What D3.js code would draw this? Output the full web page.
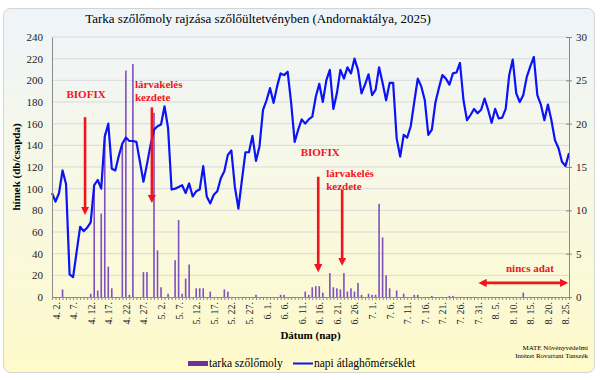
<!DOCTYPE html>
<meta charset="utf-8">
<style>
    body {
        margin: 0;
        background: #fff;
    }

    text {
        font-family: "Liberation Serif", "Times New Roman", serif;
    }
</style>

<body>
<div id="chart"></div>

<script src="https://cdn.jsdelivr.net/npm/d3@7"></script>
<script>
    // daily data, 2025. 4. 1. -> 2025. 8. 26.
    var startDate = new Date(2025, 3, 1);

    // tarka szőlőmoly, hímek (db/csapda)
    var moths = [
        0, 0, 0, 7, 0, 0, 0, 0, 0, 0,
        0, 3, 103, 6, 77, 151, 28, 8, 0, 0,
        140, 209, 2, 215, 0, 0, 23, 23, 0, 170,
        43, 9, 0, 3, 0, 34, 71, 3, 17, 30,
        0, 8, 8, 8, 0, 5, 0, 0, 0, 7,
        5, 0, 0, 0, 0, 0, 0, 0, 2, 0,
        0, 0, 0, 0, 0, 2, 2, 0, 0, 0,
        0, 0, 5, 2, 9, 10, 10, 4, 0, 22,
        9, 8, 7, 22, 5, 8, 5, 13, 2, 0,
        3, 2, 2, 86, 55, 20, 8, 0, 6, 0,
        3, 0, 0, 2, 2, 0, 0, 0, 1, 0,
        0, 0, 0, 1, 1, 0, 0, 0, 0, 0,
        0, 0, 0, 0, 0, 0, 0, 0, 0, 0,
        0, 0, 0, 0, 4, 0, 0, 0, 0, 0,
        0, 0, 0, 0, 0, 0, 0, 0
    ];

    // napi átlaghőmérséklet (°C)
    var temps = [
        12.0, 11.0, 12.0, 14.6, 13.0, 2.6, 2.3, 5.2, 8.1, 7.6,
        8.0, 8.6, 12.9, 13.5, 12.5, 18.5, 20.0, 14.8, 14.6, 16.3,
        17.7, 18.4, 18.0, 18.0, 17.9, 15.6, 13.3, 15.3, 17.5, 19.3,
        19.7, 19.9, 22.0, 19.5, 12.4, 12.5, 12.7, 12.9, 12.0, 13.1,
        11.6, 12.2, 12.4, 15.1, 11.6, 10.8, 11.8, 12.2, 13.7, 14.5,
        16.4, 16.9, 12.7, 10.2, 13.5, 16.7, 16.7, 18.6, 15.7, 17.4,
        21.6, 22.7, 24.1, 22.4, 24.3, 25.8, 25.6, 26.0, 22.4, 17.9,
        19.3, 20.5, 20.0, 20.5, 20.8, 23.1, 24.6, 22.5, 25.0, 26.2,
        21.7, 23.5, 26.2, 25.2, 26.5, 25.8, 27.5, 26.2, 23.5, 24.5,
        25.7, 23.3, 23.9, 26.5, 24.7, 22.7, 24.7, 24.7, 18.3, 16.2,
        18.7, 18.4, 19.7, 22.5, 25.2, 24.3, 22.7, 18.7, 19.3, 22.4,
        24.1, 25.6, 25.2, 24.5, 25.8, 25.9, 27.0, 22.7, 20.4, 21.0,
        21.7, 21.2, 21.6, 22.9, 21.6, 20.1, 21.7, 20.6, 20.7, 21.7,
        25.6, 27.4, 23.5, 22.5, 23.3, 25.4, 26.6, 27.7, 23.3, 22.2,
        20.4, 22.2, 20.4, 18.1, 17.2, 15.6, 15.1, 16.6
    ];

    var leftTicks = [0, 20, 40, 60, 80, 100, 120, 140, 160, 180, 200, 220, 240];
    var rightTicks = [0, 5, 10, 15, 20, 25, 30];
    var dateLabels = [
        "4. 2.", "4. 7.", "4. 12.", "4. 17.", "4. 22.", "4. 27.",
        "5. 2.", "5. 7.", "5. 12.", "5. 17.", "5. 22.", "5. 27.",
        "6. 1.", "6. 6.", "6. 11.", "6. 16.", "6. 21.", "6. 26.",
        "7. 1.", "7. 6.", "7. 11.", "7. 16.", "7. 21.", "7. 26.", "7. 31.",
        "8. 5.", "8. 10.", "8. 15.", "8. 20.", "8. 25."
    ];

    // annotation arrows: day index (from 4. 1.) and top / tip in hímek units
    var arrowDays = [9.4, 28.4, 75.7, 82.5];
    var arrowTop = [166, 175, 111, 99];
    var arrowTip = [75, 86, 22, 28];
    var noDataFrom = "7. 31.";

    var width = 600,
        height = 380;

    function dayOf(label) {
        var p = label.split(".");
        var d = new Date(2025, +p[0] - 1, +p[1]);
        return d3.timeDay.count(startDate, d);
    }

    var svg = d3.select("#chart").append("svg")
        .attr("width", width)
        .attr("height", height);

    var defs = svg.append("defs");
    var grad = defs.append("linearGradient")
        .attr("id", "bg")
        .attr("x1", 0).attr("y1", 0).attr("x2", 0).attr("y2", 1);
    grad.append("stop").attr("offset", "0%").attr("stop-color", "#eff4fa");
    grad.append("stop").attr("offset", "45%").attr("stop-color", "#f7f8e6");
    grad.append("stop").attr("offset", "100%").attr("stop-color", "#fefaca");

    defs.append("marker")
        .attr("id", "head")
        .attr("viewBox", "0 0 10 10")
        .attr("refX", 5).attr("refY", 5)
        .attr("markerWidth", 3.2).attr("markerHeight", 3.2)
        .attr("orient", "auto-start-reverse")
        .append("path")
        .attr("d", "M0,0 L10,5 L0,10 z")
        .attr("fill", "#f0141e");

    svg.append("rect")
        .attr("x", 3.5).attr("y", 8.5)
        .attr("width", 591).attr("height", 364)
        .attr("rx", 7)
        .attr("fill", "url(#bg)")
        .attr("stroke", "#d4d4d4");

    var x = d3.scaleLinear()
        .domain([0, temps.length - 1])
        .range([52, 569]);

    var yL = d3.scaleLinear().domain([0, 240]).range([297, 37]);
    var yR = d3.scaleLinear().domain([0, 30]).range([297, 37]);

    // grid
    svg.append("g")
        .selectAll("line")
        .data(leftTicks.slice(1))
        .enter().append("line")
        .attr("x1", x(0)).attr("x2", x(temps.length - 1))
        .attr("y1", function (d) { return yL(d); })
        .attr("y2", function (d) { return yL(d); })
        .attr("stroke", "#d9d9d9")
        .attr("stroke-width", 1);

    // bars
    svg.append("g")
        .selectAll("rect")
        .data(moths)
        .enter().append("rect")
        .attr("x", function (d, i) { return x(i) - 0.8; })
        .attr("width", 1.6)
        .attr("y", function (d) { return yL(d); })
        .attr("height", function (d) { return yL(0) - yL(d); })
        .attr("fill", "#7d4fc0");

    // temperature line
    var line = d3.line()
        .x(function (d, i) { return x(i); })
        .y(function (d) { return yR(d); });

    svg.append("path")
        .datum(temps)
        .attr("d", line)
        .attr("fill", "none")
        .attr("stroke", "#0a14f5")
        .attr("stroke-width", 2.2)
        .attr("stroke-linejoin", "round");

    // axes
    var axisColor = "#8a8a8a";

    var left = svg.append("g")
        .attr("transform", "translate(" + x(0) + ",0)")
        .call(d3.axisLeft(yL).tickValues(leftTicks).tickSize(0).tickPadding(9));
    left.select(".domain").attr("stroke", axisColor);
    left.selectAll("text").style("font-size", "11px").attr("fill", "#222");

    var right = svg.append("g")
        .attr("transform", "translate(" + x(temps.length - 1) + ",0)")
        .call(d3.axisRight(yR).tickValues(rightTicks).tickSize(3).tickPadding(4));
    right.select(".domain").attr("stroke", axisColor);
    right.selectAll("line").attr("stroke", axisColor).attr("x1", -3);
    right.selectAll("text").style("font-size", "11px").attr("fill", "#222");

    var labelDays = dateLabels.map(dayOf);
    var bottom = svg.append("g")
        .attr("transform", "translate(0," + yL(0) + ")")
        .call(d3.axisBottom(x)
            .tickValues(d3.range(temps.length))
            .tickSize(3)
            .tickFormat(function (d) {
                var k = labelDays.indexOf(d);
                return k < 0 ? "" : dateLabels[k];
            }));
    bottom.select(".domain").attr("stroke", axisColor);
    bottom.selectAll("line").attr("stroke", axisColor);
    bottom.selectAll("text")
        .style("font-size", "10px")
        .style("text-anchor", "end")
        .attr("fill", "#222")
        .attr("transform", "rotate(-90)")
        .attr("x", -5)
        .attr("y", 0)
        .attr("dy", "0.35em");

    // titles
    svg.append("text")
        .attr("x", 258).attr("y", 23)
        .attr("text-anchor", "middle")
        .style("font-size", "13px")
        .text("Tarka szőlőmoly rajzása szőlőültetvényben (Andornaktálya, 2025)");

    svg.append("text")
        .attr("transform", "translate(20," + (yL(120)) + ") rotate(-90)")
        .attr("text-anchor", "middle")
        .style("font-size", "11px")
        .style("font-weight", "bold")
        .text("hímek (db/csapda)");

    svg.append("text")
        .attr("x", (x(0) + x(temps.length - 1)) / 2).attr("y", 339)
        .attr("text-anchor", "middle")
        .style("font-size", "11px")
        .style("font-weight", "bold")
        .text("Dátum (nap)");

    // annotations
    var red = "#f0141e";
    var ann = svg.append("g");

    ann.selectAll("line.arrow")
        .data(arrowDays)
        .enter().append("line")
        .attr("class", "arrow")
        .attr("x1", function (d) { return x(d); })
        .attr("x2", function (d) { return x(d); })
        .attr("y1", function (d, i) { return yL(arrowTop[i]); })
        .attr("y2", function (d, i) { return yL(arrowTip[i]) - 5; })
        .attr("stroke", red)
        .attr("stroke-width", 2.6)
        .attr("marker-end", "url(#head)");

    function redText(tx, ty, s, anchor) {
        ann.append("text")
            .attr("x", tx).attr("y", ty)
            .attr("text-anchor", anchor)
            .attr("fill", red)
            .style("font-size", "11px")
            .style("font-weight", "bold")
            .text(s);
    }

    redText(x(arrowDays[0]) + 1, yL(184), "BIOFIX", "middle");
    redText(x(arrowDays[1]) - 17, yL(193), "lárvakelés", "start");
    redText(x(arrowDays[1]) - 17, yL(181), "kezdete", "start");
    redText(x(arrowDays[2]) + 2, yL(130), "BIOFIX", "middle");
    redText(x(arrowDays[3]) - 16, yL(111), "lárvakelés", "start");
    redText(x(arrowDays[3]) - 16, yL(99), "kezdete", "start");

    var nd = dayOf(noDataFrom);
    redText(530, yL(23), "nincs adat", "middle");
    ann.append("line")
        .attr("x1", x(nd) + 5).attr("x2", x(temps.length - 1) - 5)
        .attr("y1", yL(13)).attr("y2", yL(13))
        .attr("stroke", red)
        .attr("stroke-width", 2.6)
        .attr("marker-start", "url(#head)")
        .attr("marker-end", "url(#head)");

    // legend
    var lg = svg.append("g");
    lg.append("rect")
        .attr("x", 188).attr("y", 361)
        .attr("width", 20).attr("height", 5)
        .attr("fill", "#7030a0");
    lg.append("text")
        .attr("x", 209).attr("y", 367)
        .style("font-size", "11.5px")
        .text("tarka szőlőmoly");
    lg.append("line")
        .attr("x1", 293).attr("x2", 313)
        .attr("y1", 363.5).attr("y2", 363.5)
        .attr("stroke", "#0a14f5")
        .attr("stroke-width", 2);
    lg.append("text")
        .attr("x", 314).attr("y", 367)
        .style("font-size", "11.5px")
        .text("napi átlaghőmérséklet");

    svg.append("text")
        .attr("x", 588).attr("y", 350)
        .attr("text-anchor", "end")
        .style("font-size", "7px")
        .text("MATE Növényvédelmi");
    svg.append("text")
        .attr("x", 588).attr("y", 358)
        .attr("text-anchor", "end")
        .style("font-size", "7px")
        .text("Intézet Rovartani Tanszék");
</script>
</body>
